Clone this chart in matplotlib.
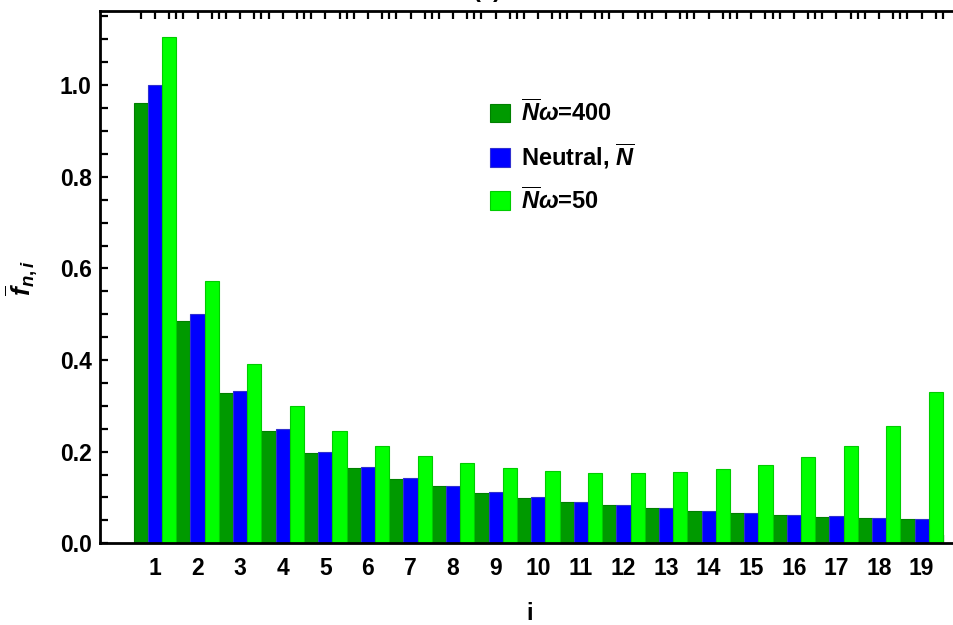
import numpy as np
import matplotlib
matplotlib.use("Agg")
import matplotlib.pyplot as plt
from matplotlib.ticker import MultipleLocator, FixedLocator

plt.rcParams["font.family"] = ["Liberation Sans", "DejaVu Sans"]
plt.rcParams["font.weight"] = "bold"
plt.rcParams["mathtext.fontset"] = "custom"
plt.rcParams["mathtext.rm"] = "Liberation Sans:bold"
plt.rcParams["mathtext.it"] = "Liberation Sans:italic:bold"
plt.rcParams["mathtext.bf"] = "Liberation Sans:bold"

# site index i = 1..19
sites = list(range(1, 20))

# selection N*omega = 400
f_400 = [0.962, 0.485, 0.328, 0.245, 0.197, 0.164, 0.141, 0.124, 0.110, 0.099,
         0.090, 0.083, 0.076, 0.071, 0.066, 0.062, 0.058, 0.055, 0.053]
# neutral spectrum
f_neutral = [1.000, 0.500, 0.333, 0.250, 0.200, 0.167, 0.143, 0.125, 0.111, 0.100,
             0.091, 0.083, 0.077, 0.071, 0.067, 0.062, 0.059, 0.056, 0.053]
# selection N*omega = 50
f_50 = [1.105, 0.573, 0.392, 0.300, 0.245, 0.213, 0.190, 0.175, 0.164, 0.157,
        0.154, 0.154, 0.156, 0.162, 0.172, 0.188, 0.213, 0.256, 0.330]

labels = [r"$\overline{N}\omega$=400", r"Neutral, $\overline{N}$", r"$\overline{N}\omega$=50"]
colors = ["#009a00", "#0000ff", "#00ff00"]
edges = ["#008000", "#3030d0", "#00cc00"]

fig = plt.figure(figsize=(9.54, 6.25), dpi=100)
ax = fig.add_axes([100 / 954, 1 - 543.3 / 625, 854 / 954, (543.3 - 11) / 625])

x = np.array(sites, dtype=float)
w = 1 / 3
series = [f_400, f_neutral, f_50]
for k, vals in enumerate(series):
    ax.bar(x + (k - 1) * w, vals, width=w, color=colors[k], edgecolor=edges[k],
           linewidth=0.8, label=labels[k], zorder=2)

ax.set_xlim(-0.29, 19.76)
ax.set_ylim(0, 1.162)

ax.yaxis.set_major_locator(MultipleLocator(0.2))
ax.yaxis.set_minor_locator(MultipleLocator(0.05))
ax.set_yticklabels([f"{v:.1f}" for v in ax.get_yticks()])
ax.set_xticks(sites)
ax.set_xticklabels([str(s) for s in sites])
minor_x = []
for s in sites:
    minor_x += [s - w, s + w, s + 0.5]
ax.xaxis.set_minor_locator(FixedLocator(minor_x))

ax.tick_params(axis="both", which="both", direction="in", width=1.6, labelsize=16.5,
               top=True, right=False)
ax.tick_params(axis="both", which="major", length=6)
ax.tick_params(axis="both", which="minor", length=6)
ax.tick_params(axis="x", which="major", pad=10)
ax.tick_params(axis="y", which="major", pad=6)
for lbl in ax.get_xticklabels() + ax.get_yticklabels():
    lbl.set_fontweight("bold")

for side in ["left", "bottom", "top"]:
    ax.spines[side].set_linewidth(2)
ax.spines["right"].set_visible(False)

ax.set_xlabel("i", fontsize=17, fontweight="bold")
ax.xaxis.set_label_coords(0.5035, -0.110)
ax.set_ylabel(r"$\overline{f}_{n,i}$", fontsize=19)
ax.yaxis.set_label_coords(-0.070, 0.498)

ax.legend(loc="upper left", bbox_to_anchor=(0.432, 0.874), frameon=False,
          handlelength=0.85, handleheight=0.85, handletextpad=0.45,
          labelspacing=0.65, prop={"weight": "bold", "size": 17})

fig.text(487 / 954, 1 + 9 / 625, "(a)", ha="center", va="center", fontsize=17)

fig.savefig("out.png", dpi=100)
